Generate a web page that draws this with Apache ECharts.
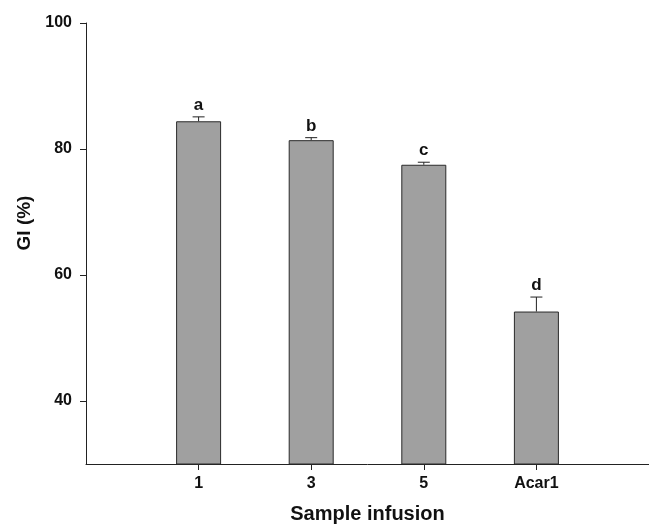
<!DOCTYPE html>
<html>
<head>
<meta charset="UTF-8">
<title>GI chart</title>
<script src="https://cdn.jsdelivr.net/npm/echarts@6/dist/echarts.min.js"></script>
<style>
  html, body { margin: 0; padding: 0; background: #fff; }
  #chart { width: 649px; height: 529px; }
</style>
</head>
<body>
<div id="chart"></div>
<script>
// values
var categories = ['1', '3', '5', 'Acar1'];
var giValues = [84.4, 81.4, 77.5, 54.2];
var giErrors = [0.7, 0.4, 0.4, 2.3];
var letters = ['a', 'b', 'c', 'd'];
var yTicks = [40, 60, 80, 100];

var font = '"Liberation Sans", Arial, sans-serif';
var positions = categories.map(function (c, i) { return i + 1; });

var barData = [];
var errData = [];
for (var i = 0; i < categories.length; i++) {
  barData.push([positions[i], giValues[i]]);
  errData.push([positions[i], giValues[i], giErrors[i], letters[i]]);
}

var chart = echarts.init(document.getElementById('chart'));
chart.setOption({
  animation: false,
  backgroundColor: '#fff',
  grid: { left: 86, right: 0, top: 23, bottom: 61, containLabel: false },
  xAxis: {
    type: 'value',
    min: 0,
    max: 5,
    splitLine: { show: false },
    axisLine: { show: true, lineStyle: { color: '#222', width: 1 } },
    axisTick: { show: true, length: 6, customValues: positions, lineStyle: { color: '#222' } },
    axisLabel: {
      customValues: positions,
      margin: 12,
      color: '#111',
      fontFamily: font,
      fontWeight: 'bold',
      fontSize: 16,
      formatter: function (v) { return categories[Math.round(v) - 1] || ''; }
    },
    name: 'Sample infusion',
    nameLocation: 'middle',
    nameGap: 40,
    nameTextStyle: { color: '#111', fontFamily: font, fontWeight: 'bold', fontSize: 20, lineHeight: 20 }
  },
  yAxis: {
    type: 'value',
    min: 30,
    max: 100,
    splitLine: { show: false },
    axisLine: { show: true, lineStyle: { color: '#222', width: 1 } },
    axisTick: { show: true, length: 6, customValues: yTicks, lineStyle: { color: '#222' } },
    axisLabel: {
      customValues: yTicks,
      margin: 14,
      color: '#111',
      fontFamily: font,
      fontWeight: 'bold',
      fontSize: 16
    }
  },
  graphic: [{
    type: 'text',
    x: 25,
    y: 223,
    rotation: Math.PI / 2,
    style: {
      text: 'GI (%)',
      fill: '#111',
      font: 'bold 19px ' + font,
      align: 'center',
      verticalAlign: 'middle'
    }
  }],
  series: [{
    type: 'bar',
    data: barData,
    barWidth: 45,
    itemStyle: { color: '#a0a0a0', borderColor: '#2a2a2a', borderWidth: 1 }
  }, {
    type: 'custom',
    data: errData,
    z: 5,
    renderItem: function (params, api) {
      var x = api.value(0);
      var base = api.coord([x, api.value(1)]);
      var top = api.coord([x, api.value(1) + api.value(2)]);
      var style = { stroke: '#222', lineWidth: 1 };
      return {
        type: 'group',
        children: [
          { type: 'line', shape: { x1: base[0], y1: base[1], x2: top[0], y2: top[1] }, style: style },
          { type: 'line', shape: { x1: top[0] - 6, y1: top[1], x2: top[0] + 6, y2: top[1] }, style: style },
          {
            type: 'text',
            x: top[0],
            y: top[1] - 3,
            style: {
              text: api.value(3),
              fill: '#111',
              font: 'bold 17px ' + font,
              align: 'center',
              verticalAlign: 'bottom'
            }
          }
        ]
      };
    }
  }]
});
</script>
</body>
</html>
